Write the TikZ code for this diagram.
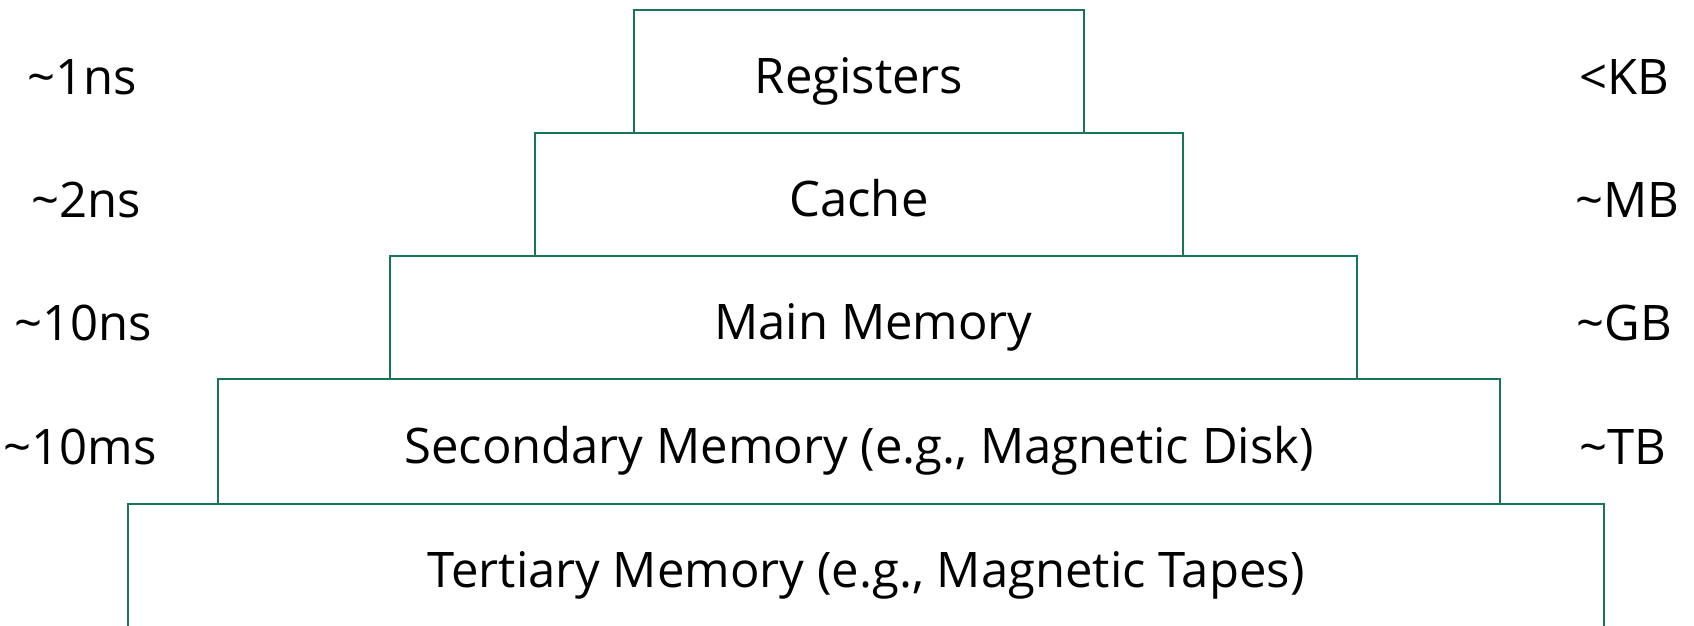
\documentclass[tikz,border=0pt]{standalone}
\usepackage{fontspec}
\setmainfont{Open Sans}
\definecolor{boxgreen}{RGB}{24,118,88}
\tikzset{
  level/.style={draw=boxgreen, line width=2.4pt, fill=white, inner sep=0pt, text=black, text height=43pt, text depth=0pt},
  lbl/.style={text=black, inner sep=0pt, text height=43pt, text depth=0pt},
}
\begin{document}
\begin{tikzpicture}[x=1pt,y=-1pt,font=\fontsize{49}{58}\selectfont]
\useasboundingbox (0,0) rectangle (1694,626);
\clip (0,0) rectangle (1694,626);
\node[level, minimum width=1476pt, minimum height=126pt] (tert) at (866,567) {};
\node[lbl] (tertt) at (866,565.5) {Tertiary Memory (e.g., Magnetic Tapes)};
\node[level, minimum width=1282pt, minimum height=125pt] (sec) at (859,441.5) {Secondary Memory (e.g., Magnetic Disk)};
\node[level, minimum width=967pt, minimum height=123pt] (main) at (873.5,317.5) {Main Memory};
\node[level, minimum width=648pt, minimum height=123pt] (cache) at (859,194.5) {Cache};
\node[level, minimum width=450pt, minimum height=123pt] (reg) at (859,71.5) {Registers};
\node[lbl] (t1) at (82,73) {\textasciitilde 1ns};
\node[lbl] (t2) at (86,196) {\textasciitilde 2ns};
\node[lbl] (t3) at (83,319) {\textasciitilde 10ns};
\node[lbl] (t4) at (80,443) {\textasciitilde 10ms};
\node[lbl] (s1) at (1624,73) {<KB};
\node[lbl] (s2) at (1627,196) {\textasciitilde MB};
\node[lbl] (s3) at (1624,319) {\textasciitilde GB};
\node[lbl] (s4) at (1623,443) {\textasciitilde TB};
\end{tikzpicture}
\end{document}
